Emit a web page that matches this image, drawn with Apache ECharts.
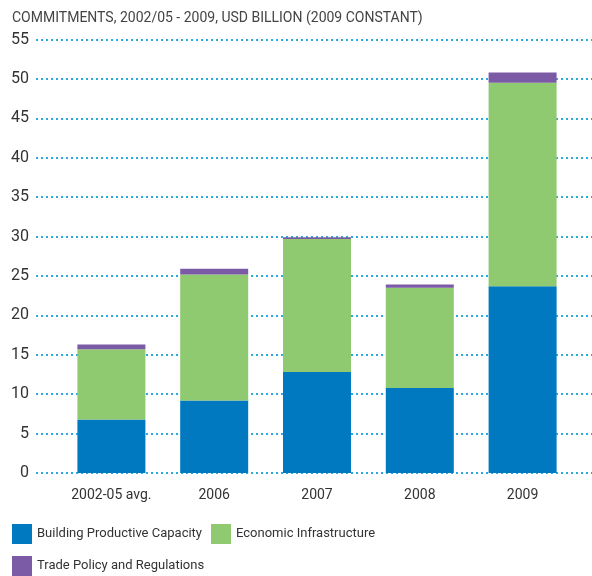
<!DOCTYPE html>
<html>
<head>
<meta charset="utf-8">
<script src="https://cdn.jsdelivr.net/npm/echarts@6/dist/echarts.min.js"></script>
<style>
  html, body { margin: 0; padding: 0; background: #fff; }
  #chart { width: 592px; height: 576px; }
</style>
</head>
<body>
<div id="chart"></div>
<script>
// categories and values (USD billion, 2009 constant)
var years = ['2002-05 avg.', '2006', '2007', '2008', '2009'];
var buildingCapacity = [6.8, 9.2, 12.8, 10.8, 23.7];
var economicInfra = [8.9, 16.0, 16.9, 12.7, 25.8];
var tradePolicy = [0.6, 0.7, 0.2, 0.4, 1.3];

var font = 'Roboto, "Open Sans", sans-serif';
var top0 = 39.5, bottom0 = 103;

var chart = echarts.init(document.getElementById('chart'));
chart.setOption({
  animation: false,
  textStyle: { fontFamily: font },
  color: ['#0079c1', '#8fc970', '#7b5ba6'],
  title: {
    text: 'COMMITMENTS, 2002/05 - 2009, USD BILLION (2009 CONSTANT)',
    left: 12, top: 11, padding: 0,
    textStyle: { fontSize: 14, fontWeight: 'normal', color: '#444', fontFamily: font }
  },
  legend: [
    { data: ['Building Productive Capacity'], left: 12, top: 524 },
    { data: ['Economic Infrastructure'], left: 211, top: 524 },
    { data: ['Trade Policy and Regulations'], left: 12, top: 556 }
  ].map(function (l) {
    l.itemWidth = 20; l.itemHeight = 20; l.icon = 'rect'; l.padding = 0; l.itemGap = 8;
    l.textStyle = { fontSize: 13, color: '#333', fontFamily: font };
    return l;
  }),
  grid: [
    // gridlines and y labels
    { left: 36, right: 0, top: top0, bottom: bottom0 },
    // bars
    { left: 60, right: 18, top: top0, bottom: bottom0 }
  ],
  xAxis: [
    { gridIndex: 0, type: 'value', show: false },
    {
      gridIndex: 1, type: 'category', data: years,
      axisLine: { show: false }, axisTick: { show: false },
      axisLabel: { color: '#333', fontSize: 14, margin: 15, interval: 0, fontFamily: font }
    }
  ],
  yAxis: [
    {
      gridIndex: 0, type: 'value', min: 0, max: 55, interval: 5,
      axisLine: { show: false }, axisTick: { show: false },
      axisLabel: { color: '#333', fontSize: 16, margin: 7, fontFamily: font },
      splitLine: { lineStyle: { color: '#29abe2', type: [2, 3], width: 2 } }
    },
    {
      gridIndex: 1, type: 'value', min: 0, max: 55, interval: 5,
      show: false, splitLine: { show: false }
    }
  ],
  series: [
    { name: 'Building Productive Capacity', data: buildingCapacity },
    { name: 'Economic Infrastructure', data: economicInfra },
    { name: 'Trade Policy and Regulations', data: tradePolicy }
  ].map(function (s) {
    s.type = 'bar'; s.stack = 'total'; s.xAxisIndex = 1; s.yAxisIndex = 1;
    s.barWidth = 68;
    return s;
  })
});
</script>
</body>
</html>
